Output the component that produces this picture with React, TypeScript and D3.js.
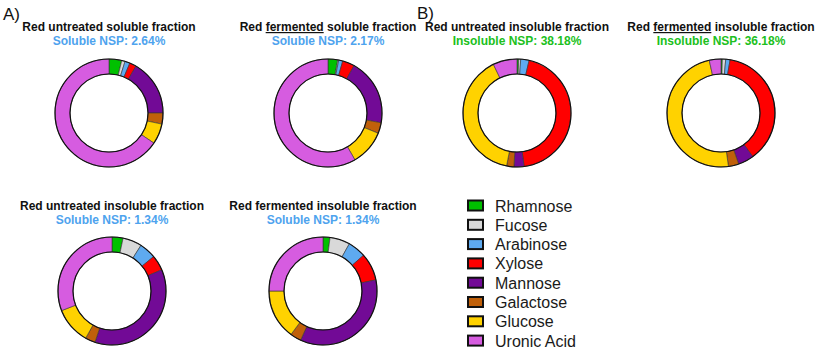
import React, { useEffect, useRef } from "react";
import * as d3 from "d3";

// sugar categories, in the order they go round each ring (clockwise from 12 o'clock)
const sugars = ["Rhamnose", "Fucose", "Arabinose", "Xylose", "Mannose", "Galactose", "Glucose", "Uronic Acid"];
const sugarColors = ["#00c000", "#d9d9d9", "#5eaaf0", "#ff0000", "#720a96", "#c0600a", "#ffd200", "#d65ce0"];

// percentage of each sugar
const untreatedSoluble = [3.8, 1.0, 1.5, 2.0, 16.7, 3.3, 6.1, 65.6];
const fermentedSoluble = [2.9, 0.3, 1.2, 3.6, 19.9, 3.2, 10.6, 58.3];
const untreatedInsolubleB = [0.5, 0.6, 2.5, 44.3, 3.0, 2.2, 39.7, 7.2];
const fermentedInsolubleB = [0.4, 1.0, 1.3, 37.3, 4.7, 3.1, 48.7, 3.5];
const untreatedInsolubleA = [3.3, 5.7, 5.0, 4.6, 36.5, 3.0, 11.0, 30.9];
const fermentedInsolubleA = [2.1, 6.0, 5.4, 8.2, 35.1, 3.3, 14.9, 25.0];

const nspLabels = ["Soluble NSP: 2.64%", "Soluble NSP: 2.17%", "Insoluble NSP: 38.18%", "Insoluble NSP: 36.18%", "Soluble NSP: 1.34%", "Soluble NSP: 1.34%"];

const BLUE = "#4ea3ee";
const GREEN = "#20bf20";

// layout of the six rings
const panels = [
  { values: untreatedSoluble, pre: "Red untreated soluble fraction", under: "", post: "", cx: 109, cy: 113, ty: 31, color: BLUE },
  { values: fermentedSoluble, pre: "Red ", under: "fermented", post: " soluble fraction", cx: 328, cy: 113, ty: 31, color: BLUE },
  { values: untreatedInsolubleB, pre: "Red untreated insoluble fraction", under: "", post: "", cx: 517, cy: 113, ty: 31, color: GREEN },
  { values: fermentedInsolubleB, pre: "Red ", under: "fermented", post: " insoluble fraction", cx: 721, cy: 113, ty: 31, color: GREEN },
  { values: untreatedInsolubleA, pre: "Red untreated insoluble fraction", under: "", post: "", cx: 112, cy: 291, ty: 210, color: BLUE },
  { values: fermentedInsolubleA, pre: "Red fermented insoluble fraction", under: "", post: "", cx: 323, cy: 291, ty: 210, color: BLUE },
];

const width = 817, height = 349;
const outerR = 54, innerR = 39;

export default function App() {
  const ref = useRef<SVGSVGElement>(null);

  useEffect(() => {
    const svg = d3.select(ref.current);
    svg.selectAll("*").remove();

    const pie = d3.pie<number>().sort(null).value(d => d);
    const arc = d3.arc<d3.PieArcDatum<number>>().innerRadius(innerR).outerRadius(outerR);

    panels.forEach((p, pi) => {
      const g = svg.append("g").attr("transform", `translate(${p.cx},${p.cy})`);

      g.selectAll("path")
        .data(pie(p.values))
        .enter()
        .append("path")
        .attr("d", arc)
        .attr("fill", (d, i) => sugarColors[i])
        .attr("stroke", "#333")
        .attr("stroke-width", 0.6);

      // ring outlines
      [outerR, innerR].forEach(r => {
        g.append("circle").attr("r", r).attr("fill", "none").attr("stroke", "#111").attr("stroke-width", 1.2);
      });

      // title
      const t = svg.append("text")
        .attr("x", p.cx)
        .attr("y", p.ty)
        .attr("text-anchor", "middle")
        .style("font-size", "12px")
        .style("font-weight", "bold")
        .attr("fill", "#111");
      t.append("tspan").text(p.pre);
      if (p.under) {
        t.append("tspan").attr("text-decoration", "underline").text(p.under);
        t.append("tspan").text(p.post);
      }

      svg.append("text")
        .attr("x", p.cx)
        .attr("y", p.ty + 14)
        .attr("text-anchor", "middle")
        .style("font-size", "12px")
        .style("font-weight", "bold")
        .attr("fill", p.color)
        .text(nspLabels[pi]);
    });

    // panel letters
    svg.append("text").attr("x", 3).attr("y", 20).style("font-size", "17px").attr("fill", "#111").text("A)");
    svg.append("text").attr("x", 417).attr("y", 19).style("font-size", "17px").attr("fill", "#111").text("B)");

    // legend
    const legend = svg.selectAll(".legend")
      .data(sugars)
      .enter()
      .append("g")
      .attr("class", "legend")
      .attr("transform", (d, i) => `translate(468,${211.5 + i * 19.3})`);

    legend.append("rect")
      .attr("x", 0)
      .attr("y", -11)
      .attr("width", 15)
      .attr("height", 10)
      .attr("fill", (d, i) => sugarColors[i])
      .attr("stroke", "#111")
      .attr("stroke-width", 2);

    legend.append("text")
      .attr("x", 27)
      .attr("y", 0)
      .style("font-size", "16px")
      .attr("fill", "#1a1a1a")
      .text(d => d);
  }, []);

  return (
    <div style={{ position: "absolute", left: 0, top: 0 }}>
      <svg ref={ref} width={width} height={height} style={{ fontFamily: "'Liberation Sans', Arial, sans-serif", display: "block" }} />
    </div>
  );
}
